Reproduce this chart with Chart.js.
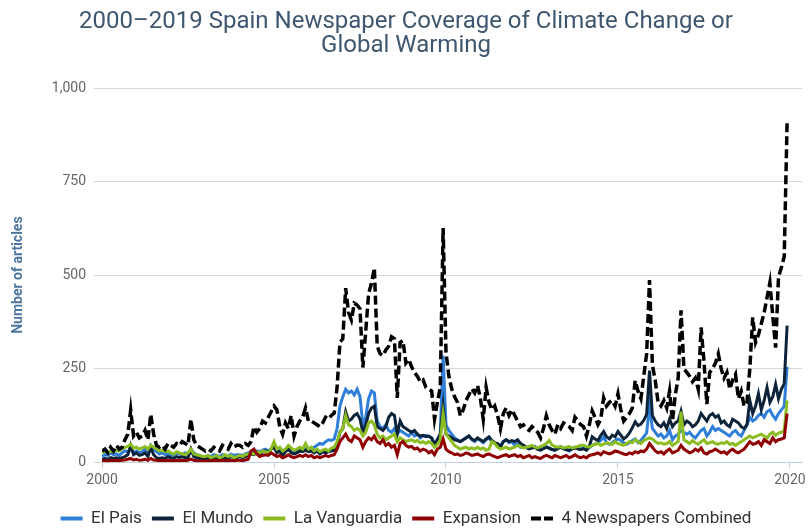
<!DOCTYPE html>
<html>
<head>
<meta charset="utf-8">
<script src="https://cdn.jsdelivr.net/npm/chart.js@4.4.1/dist/chart.umd.min.js"></script>
<style>
  html, body { margin: 0; padding: 0; background: #fff; }
  #wrap { width: 811px; height: 529px; }
</style>
</head>
<body>
<div id="wrap"><canvas id="LineChart"></canvas></div>
<script>
// monthly counts, Jan 2000 .. Dec 2019 (one row per year)
const elPais = [
    15, 20, 18, 25, 20, 22, 18, 25, 30, 28, 35, 25,
    30, 25, 28, 35, 25, 45, 35, 28, 22, 25, 20, 22,
    20, 18, 25, 22, 20, 25, 22, 35, 25, 20, 18, 15,
    15, 18, 15, 20, 18, 15, 20, 18, 15, 22, 18, 20,
    20, 18, 22, 25, 28, 25, 30, 28, 32, 35, 30, 35,
    40, 30, 35, 25, 30, 35, 28, 25, 30, 35, 30, 35,
    30, 35, 40, 45, 50, 48, 55, 60, 58, 62, 90, 150,
    175, 195, 185, 190, 180, 195, 175, 100, 120, 170, 190, 185,
    110, 95, 90, 100, 85, 80, 90, 75, 85, 80, 75, 70,
    80, 70, 75, 65, 70, 72, 68, 65, 50, 60, 75, 285,
    100, 85, 75, 65, 60, 55, 60, 65, 70, 60, 55, 62,
    58, 52, 60, 65, 55, 50, 48, 45, 55, 60, 52, 55,
    45, 50, 40, 42, 38, 35, 40, 42, 36, 33, 38, 42,
    36, 34, 32, 38, 42, 36, 33, 30, 35, 40, 36, 34,
    40, 35, 38, 45, 48, 52, 58, 68, 52, 48, 52, 58,
    62, 58, 52, 48, 52, 58, 62, 52, 58, 68, 78, 150,
    90, 80, 70, 75, 65, 70, 85, 60, 70, 75, 85, 80,
    75, 80, 70, 65, 75, 85, 90, 70, 80, 95, 85, 90,
    85, 80, 75, 70, 80, 85, 75, 70, 85, 100, 120, 110,
    115, 125, 130, 120, 135, 140, 125, 115, 130, 140, 150, 255
];
const elMundo = [
    8, 10, 8, 12, 10, 12, 10, 12, 15, 20, 45, 20,
    25, 18, 20, 25, 15, 40, 20, 12, 10, 12, 10, 15,
    12, 10, 15, 12, 15, 12, 12, 35, 15, 12, 10, 10,
    8, 10, 8, 12, 10, 8, 12, 10, 10, 15, 12, 12,
    15, 12, 15, 18, 22, 20, 25, 22, 28, 30, 25, 35,
    40, 25, 30, 18, 28, 35, 25, 22, 25, 30, 28, 32,
    28, 30, 25, 30, 22, 28, 25, 28, 30, 32, 45, 80,
    90, 135, 110, 115, 125, 130, 115, 80, 100, 130, 145, 150,
    95, 90, 85, 95, 120, 130, 125, 75, 110, 95, 90, 85,
    80, 85, 75, 70, 72, 68, 70, 65, 45, 60, 75, 150,
    75, 70, 65, 60, 58, 55, 60, 65, 70, 62, 58, 65,
    60, 55, 62, 68, 58, 52, 50, 40, 55, 60, 55, 58,
    55, 60, 50, 45, 40, 36, 38, 40, 34, 32, 36, 40,
    38, 34, 32, 36, 40, 36, 34, 32, 36, 38, 36, 34,
    36, 32, 42, 68, 62, 58, 72, 82, 68, 62, 72, 68,
    82, 72, 62, 68, 78, 92, 108, 98, 102, 112, 128, 245,
    125, 110, 100, 95, 105, 90, 115, 95, 105, 110, 137, 100,
    110, 105, 95, 100, 110, 130, 120, 110, 125, 130, 120, 125,
    105, 110, 100, 95, 115, 110, 105, 95, 90, 100, 165, 130,
    150, 183, 140, 165, 200, 160, 175, 208, 170, 195, 210, 365
];
const laVanguardia = [
    25, 30, 25, 30, 28, 32, 30, 35, 40, 42, 48, 38,
    40, 35, 38, 42, 35, 45, 40, 35, 30, 32, 28, 30,
    25, 22, 28, 25, 22, 20, 25, 35, 22, 20, 18, 15,
    15, 18, 12, 15, 18, 12, 15, 20, 15, 18, 12, 15,
    18, 15, 20, 22, 25, 22, 28, 25, 30, 28, 25, 35,
    55, 35, 40, 30, 35, 45, 38, 32, 35, 40, 35, 50,
    35, 40, 30, 35, 28, 32, 35, 30, 38, 40, 55, 80,
    90, 125, 100, 95, 85, 90, 85, 70, 80, 105, 110, 100,
    75, 65, 70, 60, 65, 70, 75, 55, 65, 60, 55, 58,
    60, 55, 58, 52, 55, 50, 55, 50, 40, 48, 60, 130,
    75, 65, 55, 45, 40, 35, 38, 40, 35, 38, 35, 40,
    35, 38, 32, 35, 55, 50, 40, 35, 38, 40, 35, 38,
    40, 45, 42, 38, 40, 42, 45, 40, 38, 42, 45, 50,
    58, 46, 42, 40, 42, 38, 40, 42, 38, 40, 42, 45,
    45, 42, 40, 45, 48, 50, 45, 48, 52, 50, 48, 55,
    50, 48, 45, 50, 55, 52, 60, 55, 50, 58, 62, 65,
    62, 55, 50, 52, 48, 50, 55, 45, 50, 55, 135, 60,
    55, 50, 58, 52, 48, 55, 60, 50, 52, 55, 50, 48,
    52, 50, 55, 48, 50, 45, 50, 55, 60, 65, 70, 65,
    68, 72, 75, 70, 65, 75, 80, 72, 78, 80, 85, 165
];
const expansion = [
    3, 4, 3, 5, 4, 5, 4, 5, 6, 8, 10, 6,
    8, 5, 6, 8, 5, 10, 6, 5, 4, 5, 4, 5,
    4, 3, 5, 4, 5, 4, 5, 8, 5, 4, 3, 3,
    3, 4, 3, 5, 4, 3, 5, 4, 3, 5, 4, 5,
    5, 4, 6, 8, 30, 35, 22, 15, 18, 20, 18, 25,
    20, 15, 18, 12, 15, 20, 15, 12, 15, 18, 15, 20,
    15, 18, 12, 15, 12, 15, 18, 15, 18, 20, 35, 55,
    65, 75, 60, 55, 70, 65, 60, 40, 55, 65, 60, 70,
    55, 50, 60, 45, 50, 40, 45, 20, 50, 55, 45, 40,
    42, 35, 38, 30, 35, 32, 25, 30, 20, 35, 40, 62,
    35, 28, 25, 20, 22, 18, 20, 25, 22, 18, 20, 22,
    18, 15, 20, 22, 18, 15, 12, 15, 18, 20, 15, 18,
    20, 15, 18, 12, 15, 18, 12, 15, 12, 10, 15, 18,
    15, 12, 18, 15, 12, 15, 18, 12, 15, 20, 15, 12,
    15, 12, 18, 20, 22, 25, 20, 28, 25, 22, 25, 30,
    28, 25, 22, 20, 25, 22, 28, 25, 30, 28, 35, 50,
    40, 30, 25, 28, 22, 30, 35, 25, 28, 32, 45, 35,
    30, 25, 28, 35, 30, 38, 25, 22, 28, 30, 35, 30,
    25, 28, 22, 30, 35, 28, 25, 30, 35, 45, 55, 48,
    50, 55, 45, 60, 55, 50, 65, 55, 60, 62, 65, 130
];
const combined = [
    30, 35, 25, 40, 30, 45, 35, 40, 60, 75, 140, 70,
    80, 65, 70, 85, 60, 128, 75, 45, 40, 45, 35, 50,
    45, 40, 50, 45, 55, 50, 45, 115, 60, 45, 40, 35,
    30, 35, 30, 40, 35, 30, 45, 40, 35, 50, 40, 45,
    45, 40, 50, 45, 55, 95, 80, 90, 110, 105, 120, 135,
    150, 140, 95, 75, 105, 90, 125, 70, 95, 110, 120, 145,
    110, 110, 105, 100, 95, 105, 120, 115, 125, 131, 200, 320,
    330, 465, 400, 380, 425, 420, 410, 253, 350, 450, 478, 519,
    310, 290, 285, 300, 310, 335, 330, 172, 320, 325, 265, 275,
    255, 240, 230, 215, 220, 200, 195, 190, 115, 160, 200, 626,
    293, 230, 196, 175, 160, 124, 140, 165, 180, 196, 185, 205,
    170, 115, 200, 160, 140, 150, 125, 89, 130, 145, 125, 140,
    125, 110, 95, 100, 90, 85, 95, 88, 80, 65, 90, 124,
    100, 85, 75, 100, 90, 105, 100, 95, 85, 120, 110, 100,
    95, 70, 100, 137, 120, 100, 115, 172, 150, 160, 165, 150,
    183, 140, 110, 120, 130, 145, 218, 190, 170, 230, 290, 487,
    260, 218, 160, 150, 165, 145, 190, 110, 180, 225, 406, 250,
    240, 230, 215, 225, 195, 360, 270, 155, 240, 250, 265, 290,
    250, 225, 240, 195, 220, 235, 170, 190, 150, 160, 250, 387,
    320, 340, 370, 400, 440, 480, 390, 306, 495, 520, 550, 908
];
const tickYears = [2000, 2005, 2010, 2015, 2020];

// x position of each month (decimal year)
const months = [];
for (let y = 2000; y < 2020; y++) {
    for (let m = 0; m < 12; m++) months.push(y + m / 12);
}

function series(label, data, color, order, dash) {
    return {
        label: label,
        data: data,
        borderColor: color,
        backgroundColor: color,
        borderWidth: dash ? 3.5 : 3,
        borderDash: dash || [],
        pointRadius: 0,
        tension: 0,
        order: order
    };
}

const ctx = document.getElementById('LineChart').getContext('2d');
new Chart(ctx, {
    type: 'line',
    data: {
        labels: months,
        datasets: [
            series('El Pais', elPais, '#2f7ed8', 4),
            series('El Mundo', elMundo, '#0d233a', 3),
            series('La Vanguardia', laVanguardia, '#8bbc21', 2),
            series('Expansion', expansion, '#910000', 1),
            series('4 Newspapers Combined', combined, '#000000', 0, [9, 4])
        ]
    },
    options: {
        responsive: true,
        maintainAspectRatio: false,
        animation: false,
        layout: { padding: { left: 10, right: 9, top: 0, bottom: -8 } },
        plugins: {
            title: {
                display: true,
                text: ['2000–2019 Spain Newspaper Coverage of Climate Change or', 'Global Warming'],
                color: '#3e576f',
                font: { family: 'Roboto', size: 24, weight: 'normal', lineHeight: 1.0 },
                padding: { top: 10, bottom: 30 }
            },
            legend: {
                position: 'bottom',
                labels: {
                    usePointStyle: true,
                    pointStyleWidth: 22,
                    color: '#333',
                    font: { family: 'Roboto', size: 17 },
                    padding: 10,
                    sort: (a, b) => a.datasetIndex - b.datasetIndex,
                    generateLabels: chart => Chart.defaults.plugins.legend.labels.generateLabels(chart).map(item => {
                        const ds = chart.data.datasets[item.datasetIndex];
                        item.pointStyle = 'line';
                        item.lineWidth = 4;
                        item.strokeStyle = ds.borderColor;
                        item.lineDash = ds.borderDash.length ? [10, 3] : [];
                        return item;
                    })
                }
            },
            tooltip: { enabled: false }
        },
        scales: {
            x: {
                type: 'linear',
                min: 2000,
                max: 2020.35,
                afterBuildTicks: axis => { axis.ticks = tickYears.map(v => ({ value: v })); },
                afterFit: axis => { axis.height += 7; },
                ticks: {
                    callback: v => String(v),
                    color: '#666',
                    font: { family: 'Roboto', size: 14 },
                    maxRotation: 0,
                    padding: 4
                },
                grid: { drawOnChartArea: false, color: '#C0D0E0', tickLength: 6 },
                border: { color: '#C0D0E0' }
            },
            y: {
                min: 0,
                max: 1000,
                ticks: {
                    stepSize: 250,
                    color: '#666',
                    font: { family: 'Roboto', size: 14 },
                    padding: 8
                },
                grid: { color: '#d8d8d8', tickLength: 8 },
                border: { display: false },
                title: {
                    display: true,
                    text: 'Number of articles',
                    color: '#4d759e',
                    font: { family: 'Roboto', size: 14, weight: 'bold' },
                    padding: { top: 0, bottom: 17 }
                }
            }
        }
    }
});
</script>
</body>
</html>
